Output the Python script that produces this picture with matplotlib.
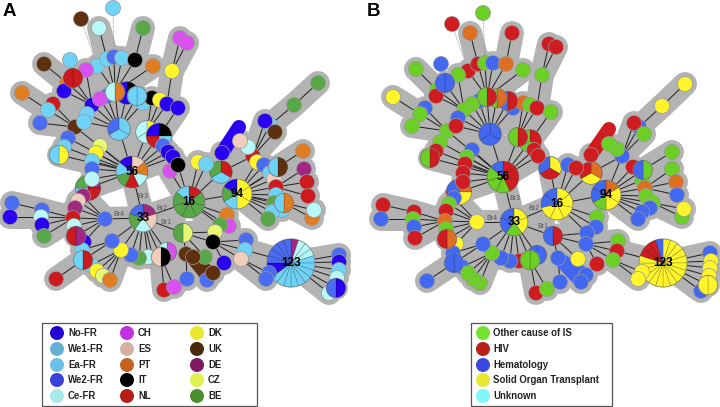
import math
import matplotlib
matplotlib.use('Agg')
import matplotlib.pyplot as plt
from matplotlib.patches import Wedge, Circle, Polygon, Rectangle

plt.rcParams['font.family'] = ['Liberation Sans', 'DejaVu Sans']

# colours of the network marks
colors = {'No': '#2a00f0', 'We1': '#6fd0f4', 'Ea': '#6fd3f7', 'We2': '#4a6cf2', 'Ce': '#b8f8f8',
          'CH': '#d850f0', 'ES': '#f0cdbc', 'PT': '#e07c22', 'IT': '#000000', 'NL': '#cc1a1e',
          'DK': '#fff52a', 'UK': '#5e3010', 'DE': '#a02880', 'CZ': '#e6f870', 'BE': '#58a848',
          'Oth': '#6ccf26', 'HIV': '#cf1c20', 'Hem': '#4368f0', 'Sol': '#fff52a', 'Org': '#dd6e22'}

legend_a = ['No-FR', 'We1-FR', 'Ea-FR', 'We2-FR', 'Ce-FR', 'CH', 'ES', 'PT', 'IT', 'NL',
            'DK', 'UK', 'DE', 'CZ', 'BE']
legend_a_colors = ['#2200d4', '#66b2d4', '#6cc0e8', '#3a40dc', '#a8e8e8', '#c030e0', '#d4b0a0', '#c46020',
                   '#000000', '#b42018', '#e8e830', '#4a2808', '#801860', '#e0f050', '#4a9030']
legend_b = ['Other cause of IS', 'HIV', 'Hematology', 'Solid Organ Transplant', 'Unknown']
legend_b_colors = ['#74e030', '#b82018', '#3848e0', '#e8e830', '#80f8f8']

# panel A: each star is (x, y, groups), hub first
a_56 = [(132, 172, 'ES PT Ce NL BE Ea No'), (119, 129, 'Ea Ea We2'), (147, 132, 'DK Ce Ce'),
        (159, 136, 'IT Ea NL No'), (163, 146, 'We2'), (168, 152, 'No'), (173, 157, 'No'),
        (75, 127, 'UK'), (68, 138, 'We2'), (64, 147, 'Ea'), (59, 155, 'DK Ea'), (100, 146, 'CZ'),
        (96, 153, 'DK'), (92, 161, 'Ea'), (92, 169, 'We2'), (92, 179, 'Ce'),
        (88, 188, 'DE NL Ea BE')]
a_119 = [(119, 129, 'Ea Ea We2'), (143, 103, 'Ea'), (137, 96, 'Ea Ea'), (127, 93, 'IT No No'),
         (115, 92, 'PT Ce'), (107, 96, 'We2'), (92, 105, 'No'), (100, 99, 'CH'), (87, 114, 'Ea'),
         (84, 122, 'Ea')]
a_115 = [(115, 92, 'PT Ce'), (97, 66, 'Ea'), (107, 59, 'Ea'), (114, 57, 'We2'), (122, 58, 'Ea'),
         (135, 60, 'IT'), (153, 66, 'PT')]
a_135 = [(135, 60, 'IT'), (143, 28, 'BE')]
a_107 = [(107, 59, 'Ea'), (99, 28, 'Ce')]
a_92 = [(92, 105, 'No'), (86, 70, 'CH'), (67, 83, 'PT'), (73, 78, 'NL NL'), (64, 91, 'No')]
a_73 = [(67, 83, 'PT'), (44, 64, 'UK')]
a_75 = [(75, 127, 'UK'), (53, 104, 'NL'), (48, 110, 'Ea'), (40, 123, 'We2')]
a_48 = [(48, 110, 'Ea'), (22, 93, 'PT')]
a_147 = [(147, 132, 'DK Ce Ce'), (152, 98, 'IT'), (160, 100, 'DK'), (167, 104, 'No')]
a_167 = [(167, 104, 'No'), (172, 71, 'DK')]
a_172 = [(172, 71, 'DK'), (180, 38, 'CH'), (187, 43, 'CH')]
a_159 = [(159, 136, 'IT Ea NL No'), (178, 108, 'No')]
a_33 = [(143, 218, 'DE ES Ce BE We2'), (132, 172, 'ES PT Ce NL BE Ea No'), (189, 202, 'NL BE BE BE BE BE Ea'),
        (183, 233, 'CZ BE'), (167, 252, 'CH Ce'), (161, 257, 'IT ES'), (153, 257, 'ES'), (148, 257, 'Ce'),
        (139, 258, 'BE'), (131, 255, 'We2'), (121, 250, 'DK'), (112, 241, 'We2'), (105, 219, 'We2')]
a_105 = [(105, 219, 'We2'), (83, 196, 'DE'), (78, 201, 'ES'), (75, 208, 'DE'), (73, 218, 'NL'),
         (74, 226, 'Ce'), (84, 242, 'No'), (76, 236, 'DE NL')]
a_73b = [(73, 218, 'NL'), (42, 210, 'We2'), (41, 217, 'Ce'), (42, 225, 'No'), (44, 236, 'BE')]
a_42 = [(42, 210, 'We2'), (12, 203, 'We2')]
a_41 = [(41, 217, 'Ce'), (10, 217, 'No')]
a_112 = [(112, 241, 'We2'), (82, 250, 'Ea'), (83, 260, 'NL Ea')]
a_83 = [(83, 260, 'NL Ea'), (56, 279, 'NL')]
a_121 = [(121, 250, 'DK'), (91, 265, 'Ea'), (97, 271, 'DK'), (103, 276, 'CZ'), (110, 280, 'PT')]
a_161 = [(161, 257, 'IT ES'), (164, 290, 'NL'), (174, 287, 'CH')]
a_16 = [(189, 202, 'NL BE BE BE BE BE Ea'), (170, 171, 'CH'), (178, 165, 'IT'), (198, 162, 'DK'),
        (206, 164, 'Ea'), (221, 172, 'NL Ea BE'), (237, 194, 'DK DK DK Ea BE No'), (227, 215, 'PT'),
        (229, 226, 'CH'), (220, 225, 'BE')]
a_221 = [(221, 172, 'NL Ea BE'), (222, 153, 'No'), (253, 156, 'NL')]
a_253 = [(253, 156, 'NL'), (248, 147, 'Ce'), (240, 141, 'ES'), (270, 125, 'Ea'), (265, 121, 'No'), (275, 132, 'UK')]
a_270 = [(270, 125, 'Ea'), (294, 105, 'BE')]
a_294 = [(294, 105, 'BE'), (318, 83, 'BE')]
a_94 = [(237, 194, 'DK DK DK Ea BE No'), (257, 162, 'DK'), (264, 165, 'We2'), (278, 167, 'UK Ea'),
        (270, 173, 'Ea'), (274, 179, 'ES'), (276, 187, 'NL'), (276, 195, 'Ea'), (274, 203, 'BE'),
        (284, 203, 'PT Ea'), (282, 210, 'Ea'), (272, 212, 'Ea'), (268, 219, 'BE')]
a_278 = [(278, 167, 'UK Ea'), (303, 151, 'PT')]
a_276 = [(276, 187, 'NL'), (304, 169, 'DE'), (307, 182, 'NL'), (308, 196, 'NL')]
a_282 = [(284, 203, 'PT Ea'), (312, 218, 'PT'), (314, 210, 'Ce')]
a_183 = [(183, 233, 'CZ BE'), (215, 232, 'CZ'), (213, 242, 'IT'), (205, 257, 'BE'), (186, 254, 'UK')]
a_213 = [(213, 242, 'IT'), (246, 240, 'We2'), (245, 250, 'Ea'), (241, 259, 'ES'), (224, 263, 'No')]
a_186 = [(186, 254, 'UK'), (193, 257, 'UK'), (207, 280, 'We2'), (213, 273, 'UK'), (187, 279, 'We2')]
a_245 = [(245, 250, 'Ea'), (291, 263, 'DE Ce Ce Ce Ea Ea Ea Ea Ea Ea Ea Ea Ea No No We2 We2 We2 We2 We2')]
a_241 = [(241, 259, 'ES'), (269, 273, 'We2'), (266, 279, 'We2')]
a_123 = [(291, 263, 'DE Ce Ce Ce Ea Ea Ea Ea Ea Ea Ea Ea Ea No No We2 We2 We2 We2 We2'), (339, 255, 'We2'),
         (339, 262, 'No'), (339, 270, 'Ea'), (329, 293, 'Ce'), (336, 288, 'No We2'), (337, 278, 'Ce')]
a_stars = [a_56, a_119, a_115, a_135, a_107, a_92, a_73, a_75, a_48, a_147, a_167, a_172, a_159, a_33, a_105,
           a_73b, a_42, a_41, a_112, a_83, a_121, a_161, a_16, a_221, a_253, a_270, a_294, a_94, a_278, a_276,
           a_282, a_183, a_213, a_186, a_245, a_241, a_123]
a_far = [(97, 66, 81, 19, 'UK'), (114, 57, 113, 8, 'Ea')]
a_lone = [(70, 60, 'Ea')]
a_thick = [(222, 153, 239, 127, 'No', 14), (193, 257, 213, 273, 'UK', 9), (186, 254, 207, 280, 'UK', 8)]
a_hubs = [(132, 172, '56'), (143, 218, '33'), (189, 202, '16'), (237, 194, '94'), (291, 263, '123')]
a_br = [(143, 196, 'Br3'), (119, 215, 'Br4'), (162, 208, 'Br2'), (166, 222, 'Br1')]

# panel B
b_56 = [(503, 177, 'HIV HIV HIV Oth Oth Oth Hem'), (490, 134, 'Hem Hem Hem'), (518, 137, 'HIV Oth'),
        (530, 141, 'HIV Oth Oth'), (534, 150, 'HIV'), (538, 156, 'HIV'), (447, 131, 'Oth'), (440, 142, 'Oth'),
        (436, 151, 'HIV'), (430, 158, 'HIV Oth'), (472, 150, 'Hem'), (467, 157, 'Oth'), (465, 164, 'HIV'),
        (463, 173, 'HIV'), (463, 182, 'HIV'), (459, 192, 'Org Sol HIV Hem')]
b_490 = [(490, 134, 'Hem Hem Hem'), (513, 108, 'Hem'), (508, 101, 'HIV Hem'), (497, 98, 'Org Oth'),
         (487, 97, 'HIV Oth'), (479, 101, 'Hem'), (472, 104, 'Oth'), (464, 110, 'Oth'), (458, 118, 'Hem'),
         (456, 126, 'HIV')]
b_487 = [(487, 97, 'HIV Oth'), (468, 71, 'HIV'), (478, 64, 'HIV'), (485, 63, 'Oth'), (493, 63, 'Hem'),
         (506, 64, 'Org'), (523, 70, 'Oth')]
b_506 = [(506, 64, 'Org'), (512, 33, 'HIV')]
b_478 = [(478, 64, 'HIV'), (470, 33, 'Org')]
b_464 = [(464, 110, 'Oth'), (458, 75, 'Oth'), (437, 90, 'Oth'), (445, 83, 'Hem Hem'), (436, 96, 'HIV')]
b_445 = [(437, 90, 'Oth'), (416, 69, 'Oth')]
b_447 = [(447, 131, 'Oth'), (425, 108, 'Hem'), (420, 114, 'Oth'), (412, 126, 'Oth')]
b_420 = [(420, 114, 'Oth'), (393, 97, 'Sol')]
b_518 = [(518, 137, 'HIV Oth'), (523, 103, 'Org'), (530, 105, 'Oth'), (537, 108, 'HIV')]
b_537 = [(537, 108, 'HIV'), (542, 75, 'Oth')]
b_542 = [(542, 75, 'Oth'), (549, 44, 'HIV'), (556, 47, 'HIV')]
b_530 = [(530, 141, 'HIV Oth Oth'), (551, 112, 'Oth')]
b_33 = [(514, 222, 'Sol Sol Oth Hem Hem'), (503, 177, 'HIV HIV HIV Oth Oth Oth Hem'),
        (557, 204, 'Sol Sol Sol Sol Sol Hem Hem'), (553, 236, 'HIV Hem'), (537, 255, 'Hem Hem'),
        (530, 260, 'Oth Oth'), (519, 261, 'HIV'), (510, 261, 'Hem'), (501, 258, 'Hem'), (492, 253, 'Oth'),
        (483, 244, 'Hem'), (477, 222, 'Sol')]
b_477 = [(477, 222, 'Sol'), (454, 198, 'Hem'), (449, 204, 'Oth'), (446, 211, 'HIV'), (445, 221, 'Org'),
         (446, 229, 'Oth'), (456, 244, 'Sol'), (447, 239, 'Org HIV')]
b_445b = [(445, 221, 'Org'), (414, 212, 'HIV'), (413, 219, 'Oth'), (414, 227, 'Hem'), (415, 238, 'HIV')]
b_414 = [(414, 212, 'HIV'), (383, 205, 'HIV')]
b_413 = [(413, 219, 'Oth'), (381, 219, 'Hem')]
b_483 = [(483, 244, 'Hem'), (453, 253, 'Hem'), (454, 263, 'Hem Hem')]
b_454 = [(454, 263, 'Hem Hem'), (427, 281, 'Hem')]
b_492 = [(492, 253, 'Oth'), (462, 267, 'Hem'), (480, 283, 'Oth'), (473, 279, 'Oth'), (468, 273, 'Oth')]
b_530b = [(530, 260, 'Oth Oth'), (536, 293, 'HIV'), (547, 289, 'Oth')]
b_16 = [(557, 204, 'Sol Sol Sol Sol Sol Hem Hem'), (550, 168, 'Sol HIV Hem'), (568, 165, 'Hem'), (576, 168, 'HIV'),
        (591, 173, 'Org Sol HIV'), (606, 195, 'Org Sol Sol Oth Hem Hem'), (597, 217, 'Oth'), (596, 227, 'Hem'),
        (587, 233, 'Hem')]
b_591 = [(591, 173, 'Org Sol HIV'), (591, 155, 'HIV'), (622, 156, 'Hem')]
b_622 = [(622, 156, 'Hem'), (617, 149, 'Oth'), (609, 144, 'Oth'), (639, 127, 'Hem'), (634, 123, 'HIV'), (644, 134, 'Oth')]
b_639 = [(639, 127, 'Hem'), (662, 106, 'Sol')]
b_662 = [(662, 106, 'Sol'), (685, 84, 'Sol')]
b_94 = [(606, 195, 'Org Sol Sol Oth Hem Hem'), (622, 156, 'Hem'), (633, 167, 'HIV'), (643, 170, 'Oth Hem'),
        (642, 180, 'Oth'), (645, 188, 'Org'), (646, 196, 'Oth'), (653, 203, 'Oth'), (650, 208, 'Hem'),
        (642, 212, 'Hem'), (638, 219, 'Hem')]
b_633 = [(643, 170, 'Oth Hem'), (672, 152, 'Oth')]
b_645 = [(645, 188, 'Org'), (672, 169, 'Oth'), (676, 182, 'Org'), (677, 195, 'Hem')]
b_650 = [(653, 203, 'Oth'), (682, 217, 'Oth'), (684, 209, 'Sol')]
b_553 = [(553, 236, 'HIV Hem'), (587, 233, 'Hem'), (586, 244, 'Hem'), (578, 259, 'Sol'), (558, 258, 'Hem')]
b_586 = [(586, 244, 'Hem'), (618, 241, 'Oth'), (617, 251, 'HIV'), (613, 260, 'Oth'), (597, 264, 'HIV')]
b_558 = [(558, 258, 'Hem'), (586, 275, 'Hem'), (581, 282, 'Hem'), (560, 282, 'Hem')]
b_617 = [(617, 251, 'HIV'), (663, 263, 'Sol Sol Sol Sol Sol Sol Sol Sol Sol Sol Sol Sol Sol Sol Sol Sol HIV HIV HIV Hem')]
b_613 = [(613, 260, 'Oth'), (642, 272, 'Sol'), (638, 279, 'Sol')]
b_123 = [(663, 263, 'Sol Sol Sol Sol Sol Sol Sol Sol Sol Sol Sol Sol Sol Sol Sol Sol HIV HIV HIV Hem'),
         (710, 253, 'Hem'), (701, 291, 'Hem'), (711, 261, 'Sol'), (710, 268, 'Sol'), (709, 276, 'Sol'),
         (708, 285, 'Sol Sol')]
b_stars = [b_56, b_490, b_487, b_506, b_478, b_464, b_445, b_447, b_420, b_518, b_537, b_542, b_530, b_33, b_477,
           b_445b, b_414, b_413, b_483, b_454, b_492, b_530b, b_16, b_591, b_622, b_639, b_662, b_94, b_633, b_645,
           b_650, b_553, b_586, b_558, b_617, b_613, b_123]
b_far = [(468, 71, 452, 24, 'HIV'), (485, 63, 483, 13, 'Oth')]
b_lone = [(441, 64, 'Hem')]
b_thick = [(591, 155, 609, 129, 'HIV', 14), (558, 258, 586, 275, 'Hem', 13), (558, 258, 581, 282, 'Hem', 13)]
b_hubs = [(503, 177, '56'), (514, 222, '33'), (557, 204, '16'), (606, 195, '94'), (663, 263, '123')]
b_br = [(515, 199, 'Br3'), (492, 218, 'Br4'), (534, 209, 'Br2'), (543, 227, 'Br1')]

PX = 0.72  # points per pixel at dpi 100
GRAY = '#b3b3b3'


def draw_node(ax, x, y, groups, z):
    parts = groups.split()
    r = 7.2 * len(parts) ** 0.4
    ax.add_patch(Circle((x, y), r + 0.7, fc='#9a9a9a', ec='none', zorder=z))
    if len(parts) == 1:
        ax.add_patch(Circle((x, y), r, fc=colors[parts[0]], ec='none', zorder=z))
        return
    step = 360 / len(parts)
    for i, g in enumerate(parts):
        ax.add_patch(Wedge((x, y), r, -90 + i * step, -90 + (i + 1) * step, fc=colors[g],
                           ec='#00000055', lw=0.35, zorder=z))


def layer(groups):
    # hubs lowest, then single nodes, the two-part pies sit on top
    n = len(groups.split())
    if n == 1:
        return 1
    return 2 if n == 2 else 0


def draw_panel(ax, stars, far, lone, thick, hubs, brs):
    nodes = {}
    for star in stars:
        hx, hy = star[0][0], star[0][1]
        kids = star[1:]
        # gray fans between neighbouring links
        ang = sorted(kids, key=lambda k: math.atan2(k[1] - hy, k[0] - hx))
        for k, k2 in zip(ang, ang[1:] + ang[:1]):
            da = (math.atan2(k2[1] - hy, k2[0] - hx) - math.atan2(k[1] - hy, k[0] - hx)) % (2 * math.pi)
            if len(ang) > 1 and da < math.radians(70):
                ax.add_patch(Polygon([(hx, hy), (k[0], k[1]), (k2[0], k2[1])], fc=GRAY, ec='none', zorder=1))
        for k in kids:
            ax.plot([hx, k[0]], [hy, k[1]], color=GRAY, lw=24 * PX, solid_capstyle='round', zorder=1)
            ax.plot([hx, k[0]], [hy, k[1]], color='#222222', lw=1.0 * PX, zorder=2)
        for n in star:
            nodes.setdefault((n[0], n[1]), n[2])
    for x1, y1, x2, y2, g, w in thick:
        ax.plot([x1, x2], [y1, y2], color=colors[g], lw=w * PX, solid_capstyle='round', zorder=2.5)
    for x1, y1, x2, y2, g in far:
        ax.plot([x1, x2], [y1, y2], color='#999999', lw=0.7, ls=(0, (1, 1)), zorder=1.5)
        nodes[(x2, y2)] = g
    for x, y, g in lone:
        nodes[(x, y)] = g
    z = 3
    for (x, y), g in sorted(nodes.items(), key=lambda it: layer(it[1])):
        draw_node(ax, x, y, g, z)
        z += 0.01
    for x, y, s in hubs:
        ax.text(x, y, s, ha='center', va='center', fontsize=8.5, fontweight='bold', color='black', zorder=6)
    for x, y, s in brs:
        ax.text(x, y, s, ha='center', va='center', fontsize=5, color='#555555', zorder=6)


def draw_legend(ax, box, xs, xt, labels, cols):
    ax.add_patch(Rectangle((box[0], box[1]), box[2], box[3], fc='white', ec='#555555', lw=0.9, zorder=1))
    rows = [333, 349, 365, 380, 396]
    for i, (lab, c) in enumerate(zip(labels, cols)):
        col, row = divmod(i, 5)
        ax.add_patch(Circle((xs[col], rows[row]), 7, fc=c, ec='none', zorder=2))
        ax.text(xt[col], rows[row], lab, ha='left', va='center', fontsize=6.9, fontweight='bold',
                color='#222222', zorder=2)


fig = plt.figure(figsize=(7.2, 4.07), dpi=100)
ax = fig.add_axes([0, 0, 1, 1])
ax.set_xlim(0, 720)
ax.set_ylim(407, 0)
ax.axis('off')

draw_panel(ax, a_stars, a_far, a_lone, a_thick, a_hubs, a_br)
draw_panel(ax, b_stars, b_far, b_lone, b_thick, b_hubs, b_br)
draw_legend(ax, (42, 323, 215, 83), [57, 127, 197], [68, 138, 208], legend_a, legend_a_colors)
draw_legend(ax, (471, 323, 141, 83), [483], [493], legend_b, legend_b_colors)

ax.text(3, 12, 'A', ha='left', va='center', fontsize=13.5, fontweight='bold', color='black')
ax.text(367, 12, 'B', ha='left', va='center', fontsize=13.5, fontweight='bold', color='black')

fig.savefig('out.png', dpi=100)
